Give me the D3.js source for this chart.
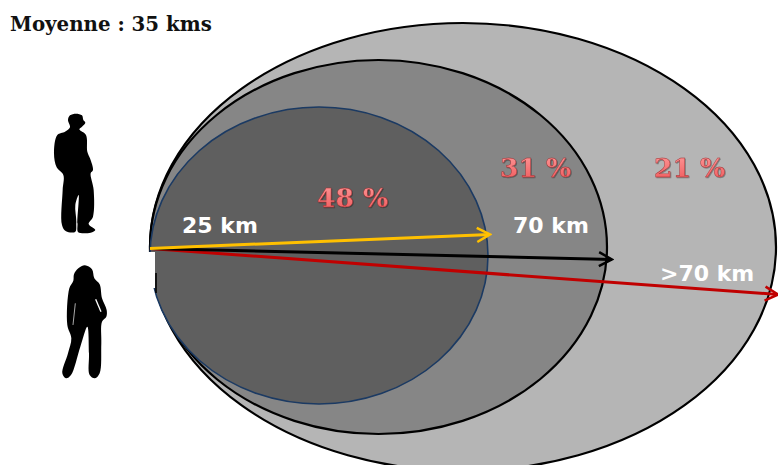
<!DOCTYPE html>
<html>
<head>
<meta charset="utf-8">
<script src="https://cdn.jsdelivr.net/npm/d3@7"></script>
<style>
    html, body { margin: 0; padding: 0; background: #fff; }
    svg { display: block; }
    .title { font: bold 19.8px "DejaVu Serif", serif; fill: #111; }
    .dist { font: bold 22px "DejaVu Sans", sans-serif; fill: #fff; }
    .share { font: bold 26.5px "DejaVu Serif", serif; fill: url(#shareFill); stroke: #a02a2d; stroke-width: 0.4px; filter: url(#shareShadow); }
</style>
</head>
<body>
<div id="chart"></div>
<script>
// Data, innermost ring first
const title = 'Moyenne : 35 kms';
const shareLabels = ['48 %', '31 %', '21 %'];
const distanceLabels = ['25 km', '70 km', '>70 km'];
const reachKm = [25, 70, 110]; // the last ring has no real limit, 110 is nominal
const arrowAngles = [-2.37, 1.36, 4.19];
const ringColors = ['#5f5f5f', '#868686', '#b5b5b5'];
const ringStrokes = ['#1b3a63', '#000000', '#000000'];
const arrowColors = ['#ffc000', '#000000', '#c00000'];

// Silhouette outlines (decoration, traced at 3x and scaled down)
const manOutline = [[204,90],[210,76],[228,71],[246,76],[250,90],[256,98],[246,110],[238,118],[258,135],[262,185],[270,205],[279,240],[272,250],[281,300],[279,380],[266,402],[286,420],[272,428],[234,426],[232,400],[236,315],[226,345],[229,395],[226,425],[198,424],[186,405],[188,300],[190,255],[170,232],[162,190],[172,135],[195,125],[210,112]];
const womanOutline = [[220,572],[222,553],[235,535],[255,526],[276,538],[283,565],[299,583],[306,625],[320,660],[319,680],[306,695],[304,760],[299,850],[285,865],[269,855],[267,790],[262,710],[241,770],[213,855],[198,865],[187,850],[204,790],[214,745],[202,705],[208,595]];

const width = 778;
const height = 465;

const svg = d3.select('#chart').append('svg')
    .attr('width', width)
    .attr('height', height);

const defs = svg.append('defs');

const grad = defs.append('linearGradient')
    .attr('id', 'shareFill')
    .attr('x1', 0).attr('y1', 0).attr('x2', 0).attr('y2', 1);
grad.append('stop').attr('offset', '0%').attr('stop-color', '#ff9c9c');
grad.append('stop').attr('offset', '100%').attr('stop-color', '#ee5658');

const shadow = defs.append('filter').attr('id', 'shareShadow');
shadow.append('feDropShadow')
    .attr('dx', 0.8).attr('dy', 0.8)
    .attr('stdDeviation', 0.5)
    .attr('flood-color', '#000')
    .attr('flood-opacity', 0.4);

arrowColors.forEach((c, i) => {
    defs.append('marker')
        .attr('id', 'head' + i)
        .attr('markerUnits', 'userSpaceOnUse')
        .attr('viewBox', '-14 -9 16 18')
        .attr('refX', 0).attr('refY', 0)
        .attr('markerWidth', 16).attr('markerHeight', 18)
        .attr('orient', 'auto')
        .append('path')
        .attr('d', 'M-13,-7 L0,0 L-13,7')
        .attr('fill', 'none')
        .attr('stroke', c)
        .attr('stroke-width', 2.5);
});

// Ring sizes: piecewise scales from km to pixels, the rings are not drawn to scale
const rx = d3.scaleLinear().domain([0, 25, 70, 110]).range([0, 169, 228.5, 313]);
const ry = d3.scaleLinear().domain([0, 25, 70, 110]).range([0, 148.5, 187, 224]);
const cyScale = d3.scaleLinear().domain([25, 70, 110]).range([255.5, 247, 247]);
const originX = 150;
const originY = 248.5;

const rings = d3.range(reachKm.length).reverse();

svg.append('g').selectAll('ellipse')
    .data(rings)
    .join('ellipse')
    .attr('cx', i => originX + rx(reachKm[i]))
    .attr('cy', i => cyScale(reachKm[i]))
    .attr('rx', i => rx(reachKm[i]))
    .attr('ry', i => ry(reachKm[i]))
    .attr('fill', i => ringColors[i])
    .attr('stroke', i => ringStrokes[i])
    .attr('stroke-width', i => i === 0 ? 1.6 : 2.2);

// White patch that hides the left edge below the arrows
svg.append('rect')
    .attr('x', 146).attr('y', 252)
    .attr('width', 9).attr('height', 36)
    .attr('fill', '#fff');
svg.append('line')
    .attr('x1', 156).attr('y1', 273)
    .attr('x2', 156).attr('y2', 293)
    .attr('stroke', '#000')
    .attr('stroke-width', 1.6);

// Arrows share one origin, each stops at the far edge of its ring
const arrowLen = i => rx(reachKm[i]) * 2 + (i === 1 ? 5 : 2);

svg.append('g').selectAll('line')
    .data([2, 1, 0])
    .join('line')
    .attr('x1', originX)
    .attr('y1', originY)
    .attr('x2', i => originX + arrowLen(i))
    .attr('y2', i => originY + arrowLen(i) * Math.tan(arrowAngles[i] * Math.PI / 180))
    .attr('stroke', i => arrowColors[i])
    .attr('stroke-width', 3)
    .attr('marker-end', i => `url(#head${i})`);

// Text
svg.append('text').attr('class', 'title').attr('x', 10).attr('y', 31).text(title);

const sharePos = [[317, 207], [500, 177], [654, 177]];
svg.append('g').selectAll('text')
    .data(shareLabels)
    .join('text')
    .attr('class', 'share')
    .attr('x', (d, i) => sharePos[i][0])
    .attr('y', (d, i) => sharePos[i][1])
    .text(d => d);

const distPos = [[182, 233], [513, 233], [660, 281]];
svg.append('g').selectAll('text')
    .data(distanceLabels)
    .join('text')
    .attr('class', 'dist')
    .attr('x', (d, i) => distPos[i][0])
    .attr('y', (d, i) => distPos[i][1])
    .text(d => d);

// Silhouettes
const outline = d3.line().curve(d3.curveCatmullRomClosed.alpha(0.5));
const people = svg.append('g').attr('transform', 'translate(0,90) scale(0.3333)');
people.append('path').attr('d', outline(manOutline)).attr('fill', '#000');
people.append('path').attr('d', outline(womanOutline)).attr('fill', '#000');
people.append('path').attr('d', 'M287,628 L303,665').attr('stroke', '#fff').attr('stroke-width', 4);
people.append('path').attr('d', 'M226,640 L219,705').attr('stroke', '#fff').attr('stroke-width', 2);
people.append('path').attr('d', 'M231,400 L231,426').attr('stroke', '#fff').attr('stroke-width', 2);
</script>
</body>
</html>
